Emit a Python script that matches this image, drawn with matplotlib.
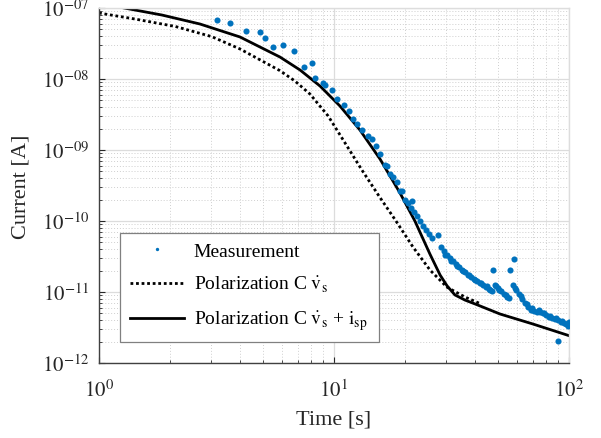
import math
import matplotlib
matplotlib.use('Agg')
import matplotlib.pyplot as plt
from matplotlib.ticker import LogLocator, FuncFormatter, NullFormatter

plt.rcParams['font.family'] = ['Liberation Serif', 'DejaVu Serif']
plt.rcParams['mathtext.fontset'] = 'stix'

t_meas = [3.19, 3.61, 4.24, 4.84, 5.07, 5.48, 6.08, 6.78, 7.42, 8.10, 8.33, 8.98, 9.20, 9.84,
          10.3, 11.0, 11.6, 12.0, 12.5, 13.1, 14.0, 14.5, 15.1, 15.7, 16.5, 16.8, 17.3, 17.9,
          18.5, 19.1, 19.4, 20.05, 20.65, 21.27, 21.5, 21.89, 22.55, 23.23, 23.92, 24.64, 25.37,
          26.12, 27.71, 28.54, 29.39, 30.27, 31.17, 32.10, 33.05, 34.04, 35.05, 36.09, 37.17,
          38.28, 39.42, 40.59, 41.80, 43.05, 44.34, 45.66, 47.01, 47.71, 48.42, 49.87, 51.35,
          52.88, 54.47, 55.54, 56.36, 57.77, 58.34, 59.50, 61.26, 63.10, 64.98, 66.92, 68.91,
          70.97, 73.09, 75.27, 77.51, 79.83, 82.21, 84.66, 87.18, 89.78, 90.22, 92.47, 95.21,
          98.06, 100.0,
          # second row of the thick band
          29.8, 31.6, 33.5, 35.5, 37.7, 40.0, 42.4, 44.9, 46.3, 49.1, 50.6, 53.7, 58.9, 62.2,
          66.0, 69.9, 74.2, 78.6, 83.4, 88.5, 93.8, 97.0, 99.2]
i_meas = [6.84e-8, 6.1e-8, 4.79e-8, 4.55e-8, 3.78e-8, 2.79e-8, 2.98e-8, 2.45e-8, 1.47e-8, 1.69e-8,
          1.03e-8, 8.8e-9, 8.2e-9, 7.0e-9, 5.3e-9, 4.37e-9, 3.58e-9, 2.74e-9, 2.32e-9, 1.91e-9,
          1.59e-9, 1.43e-9, 1.14e-9, 8.7e-10, 6.2e-10, 6.0e-10, 4.59e-10, 4.12e-10, 3.5e-10,
          2.62e-10, 2.67e-10, 1.98e-10, 1.79e-10, 1.52e-10, 1.89e-10, 1.34e-10, 1.17e-10, 1.0e-10,
          8.5e-11, 7.5e-11, 6.6e-11, 5.8e-11, 6.35e-11, 4.3e-11, 3.78e-11, 3.32e-11, 3.01e-11,
          2.73e-11, 2.48e-11, 2.25e-11, 2.04e-11, 1.91e-11, 1.73e-11, 1.63e-11, 1.52e-11, 1.43e-11,
          1.34e-11, 1.26e-11, 1.18e-11, 1.10e-11, 1.03e-11, 2.01e-11, 1.26e-11, 1.14e-11, 1.03e-11,
          9.4e-12, 8.5e-12, 8.2e-12, 2.01e-11, 1.26e-11, 2.92e-11, 1.07e-11, 9.4e-12, 7.96e-12,
          7.0e-12, 6.15e-12, 5.57e-12, 5.4e-12, 5.2e-12, 5.2e-12, 5.06e-12, 4.74e-12, 4.45e-12,
          4.31e-12, 4.17e-12, 4.04e-12, 2.04e-12, 3.78e-12, 3.66e-12, 3.54e-12, 3.78e-12,
          3.3e-11, 2.75e-11, 2.3e-11, 1.95e-11, 1.72e-11, 1.5e-11, 1.32e-11, 1.2e-11, 1.08e-11,
          1.2e-11, 1.08e-11, 9.2e-12, 1.15e-11, 8.8e-12, 6.8e-12, 5.9e-12, 5.5e-12, 5.1e-12,
          4.6e-12, 4.3e-12, 3.9e-12, 3.5e-12, 3.3e-12]

# model: polarization current only
t_pol = [1.0, 1.42, 2.11, 3.02, 3.98, 5.89, 6.82, 7.90, 9.45, 11.14, 13.15, 15.54, 18.36, 21.69,
         25.62, 30.27, 36.09, 42.2]
i_pol = [8.5e-8, 7.0e-8, 5.5e-8, 3.95e-8, 2.65e-8, 1.31e-8, 9.37e-9, 6.15e-9, 3.01e-9, 1.26e-9,
         5.22e-10, 2.25e-10, 1.0e-10, 4.3e-11, 2.04e-11, 1.17e-11, 8.5e-12, 6.8e-12]

# model: polarization + i_sp
t_tot = [1.28, 1.854, 2.69, 3.98, 5.89, 7.17, 8.72, 10.6, 12.9, 15.7, 19.1, 22.1, 25.6, 28.3,
         30.3, 32.7, 36.1, 39.8, 50.9, 70.3, 100.0]
i_tot = [1.0e-7, 7.96e-8, 5.95e-8, 3.91e-8, 2.04e-8, 1.34e-8, 7.97e-9, 4.17e-9, 1.91e-9, 7.47e-10,
         2.48e-10, 1.0e-10, 3.43e-11, 1.73e-11, 1.22e-11, 9.1e-12, 7.7e-12, 6.8e-12, 4.9e-12,
         3.54e-12, 2.43e-12]

fig = plt.figure(figsize=(6.01, 4.39), dpi=100)
ax = fig.add_axes([0.1647, 0.1708, 0.782, 0.8087])

ax.plot(t_meas, i_meas, 'o', color='#0072BD', ms=4.4, mew=0, label='Measurement', zorder=3)
ax.plot(t_pol, i_pol, color='black', lw=2, linestyle=(0, (1, 1)),
        label=r'Polarization C $\mathrm{\dot{v}_s}$', zorder=2)
ax.plot(t_tot, i_tot, color='black', lw=2,
        label=r'Polarization C $\mathrm{\dot{v}_s}$ + $\mathrm{i_{sp}}$', zorder=2)

ax.set_xscale('log')
ax.set_yscale('log')
ax.set_xlim(1, 100)
ax.set_ylim(1e-12, 1e-7)

ax.xaxis.set_major_locator(LogLocator(base=10, numticks=10))
ax.yaxis.set_major_locator(LogLocator(base=10, numticks=10))
ax.xaxis.set_minor_locator(LogLocator(base=10, subs=range(2, 10), numticks=20))
ax.yaxis.set_minor_locator(LogLocator(base=10, subs=range(2, 10), numticks=20))
ax.xaxis.set_minor_formatter(NullFormatter())
ax.yaxis.set_minor_formatter(NullFormatter())
ax.xaxis.set_major_formatter(FuncFormatter(lambda v, p: r'$10^{%d}$' % round(math.log10(v))))
ax.yaxis.set_major_formatter(FuncFormatter(lambda v, p: r'$10^{-%02d}$' % -round(math.log10(v))))

ax.grid(True, which='major', color='#dcdcdc', lw=0.9, ls='-')
ax.grid(True, which='minor', color='#cfcfcf', lw=0.7, ls=(0, (1, 2)))
ax.set_axisbelow(True)

ax.tick_params(which='both', direction='in', colors='#262626', labelsize=15)
ax.tick_params(which='major', length=4, width=0.8)
ax.tick_params(which='minor', length=2, width=0.6)
ax.tick_params(axis='x', pad=12)
ax.tick_params(axis='y', pad=7)
ax.tick_params(which='both', top=False, right=False)

for s in ['left', 'bottom']:
    ax.spines[s].set_color('#404040')
    ax.spines[s].set_linewidth(1.0)
for s in ['top', 'right']:
    ax.spines[s].set_color('#dddddd')
    ax.spines[s].set_linewidth(1.0)

ax.set_xlabel('Time [s]', fontsize=16, color='#262626', labelpad=6)
ax.set_ylabel('Current [A]', fontsize=16, color='#262626', labelpad=8)

leg = ax.legend(loc='lower left', bbox_to_anchor=(0.0447, 0.059, 0.551, 0.318), mode='expand',
                fontsize=14, fancybox=False, framealpha=1, edgecolor='#808080',
                handlelength=2.8, markerscale=0.55, borderpad=0.5, labelspacing=0.75,
                handletextpad=0.5, borderaxespad=0)
leg.get_frame().set_linewidth(0.9)

fig.savefig('out.png', dpi=100)
